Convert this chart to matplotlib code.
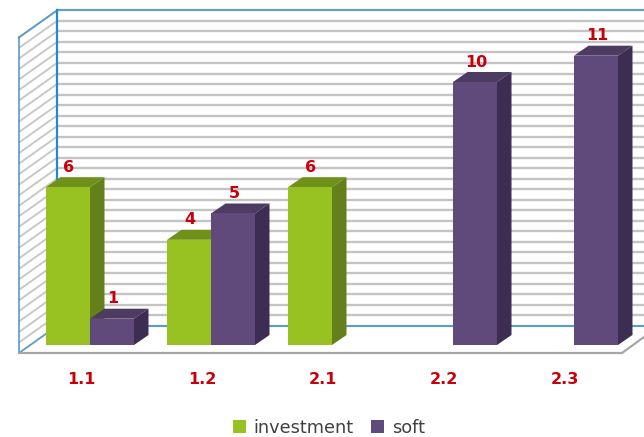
import numpy as np
import matplotlib
matplotlib.use('Agg')
import matplotlib.pyplot as plt
from matplotlib.patches import Polygon, Patch

categories = ['1.1', '1.2', '2.1', '2.2', '2.3']
investment = [6, 4, 6, None, None]
soft = [1, 5, None, 10, 11]
series_names = ['investment', 'soft']

# front, top, side colours of the bars
green = ['#97c221', '#6f9119', '#64801a']
purple = ['#604a7b', '#4e3b62', '#3e2d52']
red = '#c8000a'

# one unit of x is one category, one unit of y is one value
PX_X = 121.0
PX_Y = 26.3
bar_w = 44 / PX_X
depth_x = 14.5 / PX_X
depth_y = 10 / PX_Y


def x_px(px):
    return (px - 46) / PX_X


def y_px(px):
    return (345 - px) / PX_Y


def draw_bar(ax, x, value, colors):
    # front face, top and right side of one box
    x1 = x + bar_w
    dx, dy = depth_x, depth_y
    ax.add_patch(Polygon([(x, value), (x + dx, value + dy), (x1 + dx, value + dy), (x1, value)],
                         closed=True, fc=colors[1], ec='none', zorder=4))
    ax.add_patch(Polygon([(x1, 0), (x1 + dx, dy), (x1 + dx, value + dy), (x1, value)],
                         closed=True, fc=colors[2], ec='none', zorder=4))
    ax.add_patch(Polygon([(x, 0), (x1, 0), (x1, value), (x, value)],
                         closed=True, fc=colors[0], ec='none', zorder=4))
    ax.text(x + bar_w / 2 + 1 / PX_X, value + 0.76, str(value), color=red, fontsize=11.5,
            fontweight='bold', ha='center', va='center', zorder=6)


fig = plt.figure(figsize=(6.44, 4.37), dpi=100)
ax = fig.add_axes([0, 0, 1, 1])
ax.set_xlim(x_px(0), x_px(644))
ax.set_ylim(y_px(437), y_px(0))
ax.axis('off')

# walls: gridlines every 0.4 up to 12
front_l, back_l = x_px(19), x_px(57)
front_r = x_px(622)
floor_f, floor_b = y_px(353), y_px(326)
for g in np.arange(0, 12.01, 0.4):
    ax.plot([front_l, back_l], [floor_f + g, floor_b + g], color='#c8c8c8', lw=1.4, zorder=1,
            solid_capstyle='butt')
    if g > 0:
        ax.plot([back_l, x_px(644)], [floor_b + g, floor_b + g], color='#c4c4c4', lw=1.7, zorder=1,
                solid_capstyle='butt')

# wall and floor edges
blue = '#5b9bc9'
ax.plot([back_l, x_px(644)], [floor_b + 12, floor_b + 12], color=blue, lw=1.3, zorder=2)
ax.plot([front_l, back_l], [floor_f + 12, floor_b + 12], color=blue, lw=1.3, zorder=2)
ax.plot([front_l, front_l], [floor_f, floor_f + 12], color='#4f8fc0', lw=1.1, zorder=2)
ax.plot([back_l, back_l], [floor_b, floor_b + 12], color='#1f8ad8', lw=1.6, zorder=2)
ax.plot([back_l, x_px(644)], [floor_b, floor_b], color=blue, lw=1.5, zorder=2)
ax.plot([front_l, back_l], [floor_f, floor_b], color=blue, lw=1.1, zorder=2)
ax.plot([front_l, front_r, x_px(644)], [floor_f, floor_f, y_px(337)], color='#a6a6a6', lw=1.6, zorder=3)

for i, name in enumerate(categories):
    if investment[i] is not None:
        draw_bar(ax, i, investment[i], green)
    if soft[i] is not None:
        draw_bar(ax, i + bar_w, soft[i], purple)
    ax.text(i + 35 / PX_X, y_px(380), name, color=red, fontsize=11.5, fontweight='bold',
            ha='center', va='center')

handles = [Patch(fc=green[0], ec='none', label=series_names[0]),
           Patch(fc=purple[0], ec='none', label=series_names[1])]
ax.legend(handles=handles, loc='center', bbox_to_anchor=(329 / 644, 1 - 428 / 437), ncol=2, frameon=False,
          fontsize=12.8, labelcolor='#404040', handlelength=0.72, handleheight=0.72,
          handletextpad=0.42, columnspacing=1.0, borderpad=0)

fig.savefig('out.png', dpi=100)
